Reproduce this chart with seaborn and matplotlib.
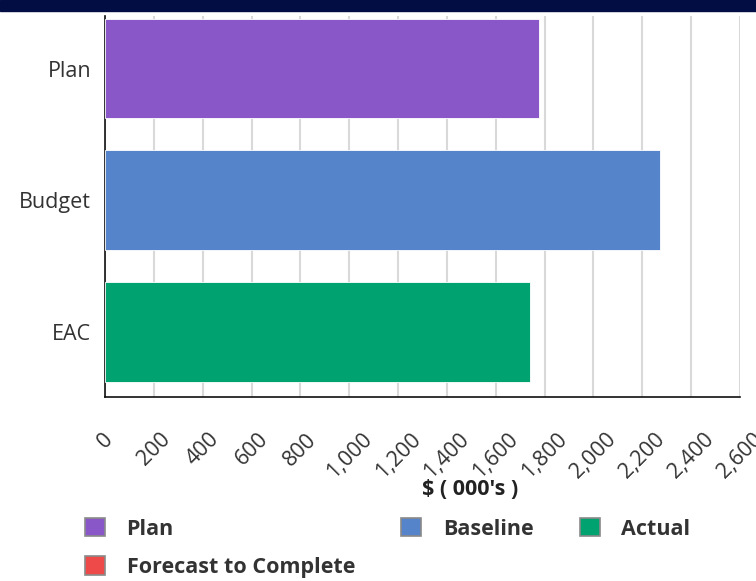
import matplotlib
matplotlib.use("Agg")
import matplotlib.pyplot as plt
import matplotlib.patches as mpatches
from matplotlib.ticker import MultipleLocator, FuncFormatter
import seaborn as sns

# === DATA ===
CATEGORIES = ["Plan", "Budget", "EAC"]
VALUES = [1776, 2274, 1742]
BAR_COLORS = ["#8a57c9", "#5684cb", "#00a36f"]

LEGEND_LABELS = ["Plan", "Baseline", "Actual", "Forecast to Complete"]
LEGEND_COLORS = ["#8a57c9", "#5684cb", "#00a36f", "#ee4a4a"]

X_LABEL = "$ ( 000's )"

# === STYLE ===
sns.set_style("white")
plt.rcParams["font.family"] = ["Open Sans", "DejaVu Sans"]
FS = 15.5

fig = plt.figure(figsize=(7.56, 5.81), dpi=100)
ax = fig.add_axes([105 / 756, 1 - 397 / 581, 635 / 756, 381 / 581])

# dark header strip along the top
fig.patches.append(mpatches.Rectangle((0, 1 - 11 / 581), 1, 11 / 581,
                                      transform=fig.transFigure,
                                      color="#020d44", zorder=0))

sns.barplot(x=VALUES, y=CATEGORIES, hue=CATEGORIES, palette=BAR_COLORS,
            orient="h", width=0.757, legend=False, saturation=1,
            edgecolor="white", linewidth=0.6, ax=ax, zorder=3)

ax.set_xlim(0, 2600)
ax.set_ylim(2.496, -0.40)

ax.xaxis.set_major_locator(MultipleLocator(200))
ax.xaxis.set_minor_locator(MultipleLocator(100))
ax.xaxis.set_major_formatter(FuncFormatter(lambda v, p: f"{int(v):,}"))
ax.grid(axis="x", which="major", color="#d9d9d9", linewidth=1.5, zorder=0)
ax.set_axisbelow(True)

ax.tick_params(axis="x", which="major", direction="in", length=8, width=1,
               color="#222222", pad=23, labelsize=FS, labelcolor="#333333")
ax.tick_params(axis="x", which="minor", direction="in", length=5, width=1,
               color="#222222")
for lbl in ax.get_xticklabels():
    lbl.set_rotation(45)
    lbl.set_ha("center")
    lbl.set_va("top")

ax.set_yticks([0, 1, 2])
ax.set_yticklabels(CATEGORIES)
ax.yaxis.set_minor_locator(plt.FixedLocator([0.5, 1.5]))
ax.tick_params(axis="y", which="major", length=0, pad=10, labelsize=FS,
               labelcolor="#333333")
ax.tick_params(axis="y", which="minor", direction="in", length=9, width=1,
               color="#222222")

for side in ["top", "right"]:
    ax.spines[side].set_visible(False)
for side in ["left", "bottom"]:
    ax.spines[side].set_color("#111111")
    ax.spines[side].set_linewidth(1.2)

ax.set_ylabel("")
ax.set_xlabel(X_LABEL, fontsize=FS, fontweight="bold", color="#222222")
ax.xaxis.set_label_coords(0.575, -0.214)

# legend, column-major order so row 1 = Plan, Baseline, Actual
handles = [mpatches.Patch(facecolor=c, edgecolor="#8a8a8a", linewidth=1.2)
           for c in LEGEND_COLORS]
order = [0, 3, 1, 2]
fig.legend([handles[i] for i in order], [LEGEND_LABELS[i] for i in order],
           ncol=3, loc="upper left", bbox_to_anchor=(85 / 756, 1 - 518 / 581),
           frameon=False, borderpad=0, borderaxespad=0,
           handlelength=0.93, handleheight=0.93, handletextpad=1.0,
           columnspacing=2.15, labelspacing=0.78,
           prop={"size": FS, "weight": "bold"}, labelcolor="#333333")

fig.savefig("out.png", dpi=100)
